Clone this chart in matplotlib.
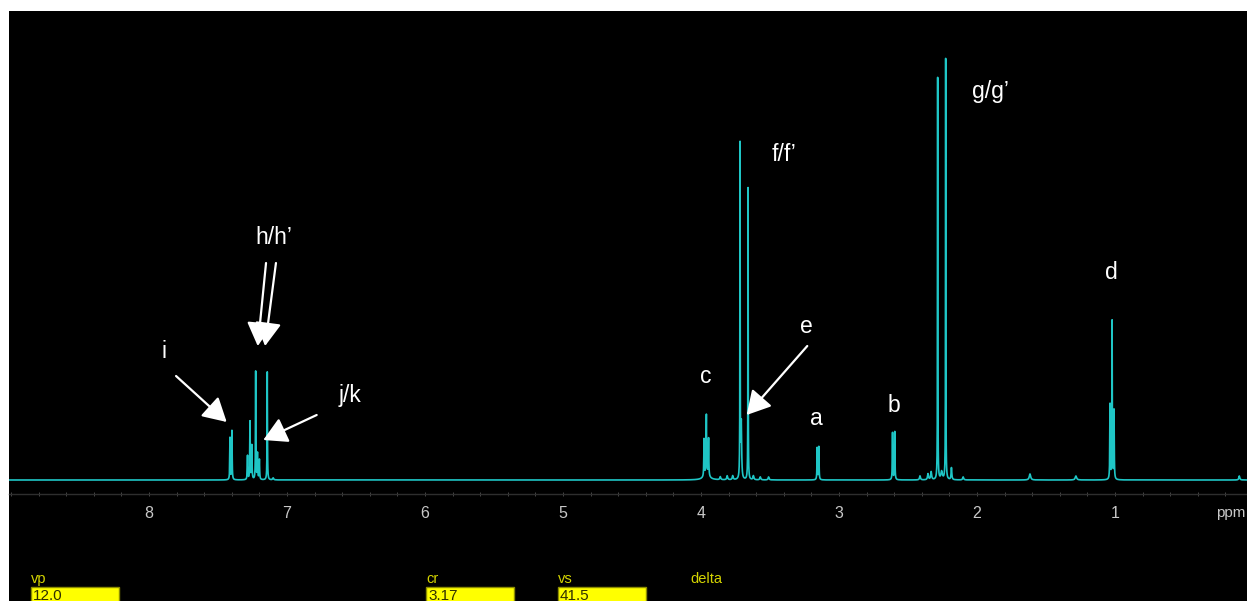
import numpy as np
import matplotlib
matplotlib.use("Agg")
import matplotlib.pyplot as plt
from matplotlib.patches import Rectangle

# ---------------- data ----------------
peak_ppm = [7.413, 7.399, 7.286, 7.268, 7.255, 7.227, 7.214, 7.200, 7.143, 7.10,
            3.978, 3.961, 3.945, 3.960,
            3.86, 3.81, 3.77, 3.62, 3.57, 3.51,
            3.717, 3.708, 3.659,
            3.158, 3.146,
            2.612, 2.596,
            2.413, 2.355, 2.332, 2.285, 2.256, 2.227, 2.185, 2.10,
            1.616, 1.283,
            1.036, 1.021, 1.007,
            0.099]
peak_height = [42, 49, 24, 58, 34, 108, 26, 20, 108, 2,
               37, 58, 37, 7,
               3, 4, 4, 4, 3, 3,
               333, 55, 292,
               32, 33,
               47, 48,
               4, 6, 8, 402, 8, 421, 12, 3,
               6, 4,
               75, 158, 69,
               4]
peak_hwhm = [0.0018, 0.0018, 0.002, 0.0018, 0.002, 0.0015, 0.002, 0.002, 0.0015, 0.004,
             0.0018, 0.0018, 0.0018, 0.02,
             0.004, 0.004, 0.004, 0.004, 0.004, 0.004,
             0.0012, 0.003, 0.0012,
             0.0018, 0.0018,
             0.0018, 0.0018,
             0.004, 0.004, 0.004, 0.0012, 0.006, 0.0012, 0.003, 0.004,
             0.006, 0.006,
             0.0018, 0.0015, 0.0018,
             0.004]

major_ticks = [1, 2, 3, 4, 5, 6, 7, 8]
tick_labels = ["1", "2", "3", "4", "5", "6", "7", "8"]

# label text, (x ppm, y), arrows: (tail, tip)
labels = [("h/h\u2019", 7.094, 236), ("i", 7.891, 122), ("j/k", 6.543, 78),
          ("c", 3.967, 97), ("f/f\u2019", 3.399, 319), ("e", 3.236, 147),
          ("a", 3.163, 55), ("b", 2.599, 68), ("g/g\u2019", 1.90, 382),
          ("d", 1.029, 201)]
arrows = [((7.804, 104), (7.437, 58)),
          ((7.152, 217), (7.212, 134)),
          ((7.080, 217), (7.159, 134)),
          ((6.785, 65), (7.172, 40)),
          ((3.230, 134), (3.669, 65))]

param_names = ["vp", "cr", "vs", "delta"]
param_values = ["12.0", "3.17", "41.5", None]
param_x = [31, 426, 558, 690]

# ---------------- figure ----------------
W, H = 1247, 601
fig = plt.figure(figsize=(W / 100, H / 100), dpi=100, facecolor="white")

bg = fig.add_axes([0, 0, 1, 1])
bg.set_xlim(0, W)
bg.set_ylim(H, 0)
bg.axis("off")
bg.add_patch(Rectangle((9, 11), W - 9, H - 11, facecolor="black", edgecolor="none"))

font_mon = ["Liberation Sans Narrow", "Liberation Sans", "DejaVu Sans"]
for name, val, x in zip(param_names, param_values, param_x):
    bg.text(x, 583, name, color="#d4d400", fontsize=10.5, family="Liberation Sans",
            ha="left", va="baseline")
    if val is not None:
        bg.add_patch(Rectangle((x, 587), 88, 20, facecolor="#ffff00",
                               edgecolor="#8c8c00", lw=1.0))
        bg.text(x + 2, 599.5, val, color="#303000", fontsize=11, family="Liberation Sans",
                ha="left", va="baseline")

# spectrum axes
ax = fig.add_axes([9 / W, (H - 494) / H, 1 - 9 / W, (494 - 11) / H])
ax.set_facecolor("none")
x = np.arange(0.04, 9.02, 0.0001)
y = np.zeros_like(x)
for p, h, w in zip(peak_ppm, peak_height, peak_hwhm):
    y += h * w ** 2 / ((x - p) ** 2 + w ** 2)
ax.plot(x, y, color="#1fc6c6", lw=1.2, solid_joinstyle="round")
ax.set_xlim(8 + 140 / 138, 8 - 1098 / 138)
ax.set_ylim(-14, 469)

for s in ["top", "left", "right"]:
    ax.spines[s].set_visible(False)
ax.spines["bottom"].set_color("#2e2e2e")
ax.spines["bottom"].set_linewidth(1.0)
ax.set_yticks([])
ax.set_xticks(major_ticks)
ax.set_xticklabels(tick_labels)
ax.set_xticks(np.arange(0.2, 9.01, 0.2), minor=True)
ax.tick_params(axis="x", which="both", direction="inout", length=3.5, width=0.7,
               color="#4a4a4a", labelcolor="#c8c8c8", labelsize=11.5, pad=7)
for t in ax.get_xticklabels():
    t.set_family(font_mon)
ax.text(8 - (1216 - 149) / 138, -33, "ppm", color="#c8c8c8", fontsize=11,
        family=font_mon, ha="left", va="center", clip_on=False)

for txt, lx, ly in labels:
    ax.text(lx, ly, txt, color="white", fontsize=16.5, family="Liberation Sans",
            ha="center", va="baseline")
for tail, tip in arrows:
    ax.annotate("", xy=tip, xytext=tail,
                arrowprops=dict(arrowstyle="-|>,head_length=0.8,head_width=0.45",
                                mutation_scale=18, color="white", lw=1.6,
                                shrinkA=0, shrinkB=0))

fig.savefig("out.png", dpi=100, facecolor=fig.get_facecolor())
